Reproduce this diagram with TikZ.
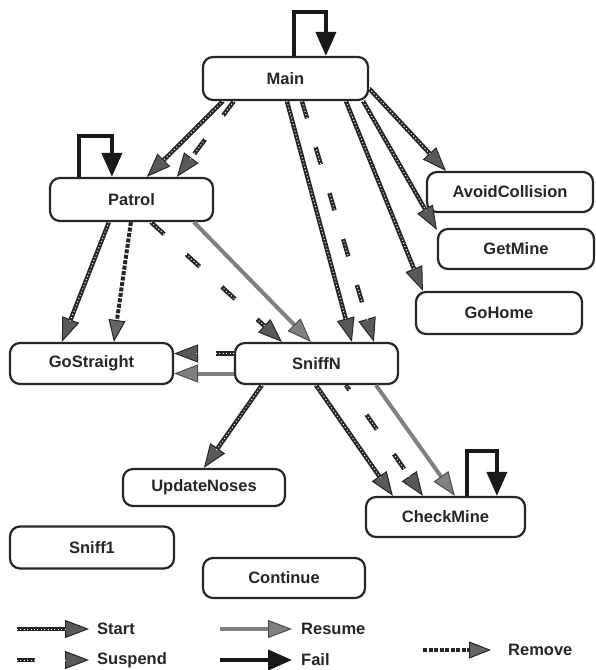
\documentclass[tikz,border=0pt]{standalone}
\usepackage{fontspec}
\setmainfont{Liberation Sans}
\usetikzlibrary{arrows.meta}
\tikzset{
  box/.style={draw=black!85, line width=2.2pt, rounded corners=10pt, minimum height=41pt,
    inner sep=0pt, text=black!85, font=\bfseries\fontsize{16.5}{18}\selectfont},
  leglabel/.style={anchor=west, inner sep=0pt, text=black!85, font=\bfseries\fontsize{16.5}{18}\selectfont},
  startarrow/.style={line width=4.4pt, draw=black!85,
    -{Triangle[length=24pt,width=18pt,line width=1pt,fill=black!65]},
    postaction={draw=white, line width=1pt, dash pattern=on 1pt off 2.4pt, -, shorten >=22pt}},
  suspendarrow/.style={startarrow, dash pattern=on 18pt off 30pt},
  resumearrow/.style={line width=4pt, draw=black!50,
    -{Triangle[length=24pt,width=18pt,line width=1pt,fill=black!50,color=black!70]}},
  failarrow/.style={line width=4pt, draw=black!90, -{Triangle[length=24pt,width=20pt]}},
  removearrow/.style={line width=4pt, draw=black!85, dash pattern=on 4pt off 1.5pt,
    -{Triangle[length=22pt,width=17pt,line width=1pt,fill=black!60]}}
}
\begin{document}
\begin{tikzpicture}[x=1pt,y=-1pt]
\useasboundingbox (0,0) rectangle (595,670);
% nodes
\node[box, minimum width=165pt, minimum height=43pt] (main) at (285.5,78.5) {Main};
\node[box, minimum width=163pt, minimum height=43pt] (patrol) at (131.5,199.5) {Patrol};
\node[box, minimum width=166pt, minimum height=40pt] (avoid) at (510,192) {AvoidCollision};
\node[box, minimum width=156pt, minimum height=40pt] (getmine) at (516,249) {GetMine};
\node[box, minimum width=166pt, minimum height=42pt] (gohome) at (499,313) {GoHome};
\node[box, minimum width=163pt] (gostraight) at (91.5,363.5) {GoStraight};
\node[box, minimum width=163pt] (sniffn) at (316.5,363.5) {SniffN};
\node[box, minimum width=162pt, minimum height=37pt] (update) at (204,487.5) {UpdateNoses};
\node[box, minimum width=159pt, minimum height=40pt] (checkmine) at (445.5,517) {CheckMine};
\node[box, minimum width=164pt, minimum height=42pt] (sniff1) at (92,547.5) {Sniff1};
\node[box, minimum width=162pt, minimum height=40pt] (continue) at (284,578) {Continue};
% Main edges
\draw[startarrow] ([xshift=21pt]main.south west) -- ([xshift=98pt]patrol.north west);
\draw[suspendarrow] ([xshift=32pt]main.south west) -- ([xshift=128pt]patrol.north west);
\draw[startarrow] ([xshift=85pt]main.south west) -- ([xshift=118pt]sniffn.north west);
\draw[suspendarrow] ([xshift=100pt]main.south west) -- ([xshift=140pt]sniffn.north west);
\draw[startarrow] ([xshift=144pt]main.south west) -- ([xshift=8pt]gohome.north west);
\draw[startarrow] ([xshift=-6pt]main.south east) -- ([yshift=-2pt]getmine.north west);
\draw[startarrow] ([yshift=-10pt]main.east) -- ([xshift=20pt]avoid.north west);
% Patrol edges
\draw[startarrow] ([xshift=60pt]patrol.south west) -- ([xshift=53pt]gostraight.north west);
\draw[removearrow] ([xshift=82pt]patrol.south west) -- ([xshift=105pt]gostraight.north west);
\draw[suspendarrow] ([xshift=102pt]patrol.south west) -- ([xshift=48pt]sniffn.north west);
\draw[resumearrow] ([xshift=145pt]patrol.south west) -- ([xshift=77pt]sniffn.north west);
% SniffN edges
\draw[suspendarrow] ([yshift=10pt]sniffn.west) -- ([yshift=10pt]gostraight.east);
\draw[resumearrow] ([yshift=-10pt]sniffn.west) -- ([yshift=-10pt]gostraight.east);
\draw[startarrow] ([xshift=28pt]sniffn.south west) -- ([xshift=82pt]update.north west);
\draw[startarrow] ([xshift=82pt]sniffn.south west) -- ([xshift=28pt]checkmine.north west);
\draw[suspendarrow, dash phase=12pt] ([xshift=112pt]sniffn.south west) -- ([xshift=58pt]checkmine.north west);
\draw[resumearrow] ([xshift=142pt]sniffn.south west) -- ([xshift=90pt]checkmine.north west);
% self loops
\draw[failarrow] ([xshift=92pt]main.north west) -- ++(0,-44) -| ([xshift=124pt]main.north west);
\draw[failarrow] ([xshift=30pt]patrol.north west) -- ++(0,-41) -| ([xshift=63pt]patrol.north west);
\draw[failarrow] ([xshift=102pt]checkmine.north west) -- ++(0,-45) -| ([xshift=132pt]checkmine.north west);
% legend
\coordinate (lsa) at (17,629); \coordinate (lsb) at (89,629);
\coordinate (lua) at (17,660); \coordinate (lub) at (89,660);
\coordinate (lra) at (220,629); \coordinate (lrb) at (292,629);
\coordinate (lfa) at (220,660); \coordinate (lfb) at (292,660);
\coordinate (lma) at (423,650); \coordinate (lmb) at (491,650);
\draw[startarrow] (lsa) -- (lsb);
\draw[suspendarrow, dash pattern=on 18pt off 40pt] (lua) -- (lub);
\draw[resumearrow] (lra) -- (lrb);
\draw[failarrow] (lfa) -- (lfb);
\draw[removearrow] (lma) -- (lmb);
\node[leglabel] (tstart) at (97,629) {Start};
\node[leglabel] (tsusp) at (97,660) {Suspend};
\node[leglabel] (tres) at (301,629) {Resume};
\node[leglabel] (tfail) at (301,660) {Fail};
\node[leglabel] (trem) at (508,650) {Remove};
\end{tikzpicture}
\end{document}
